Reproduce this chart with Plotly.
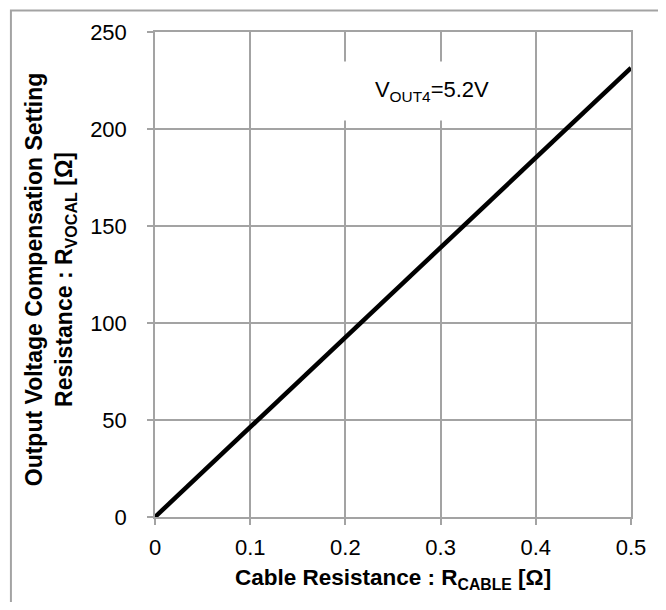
import plotly.graph_objects as go

# Data
r_cable = [0.0, 0.1, 0.2, 0.3, 0.4, 0.5]
r_vocal = [0.0, 46.3, 92.6, 138.9, 185.2, 231.5]

x_ticks = [0, 0.1, 0.2, 0.3, 0.4, 0.5]
x_tick_text = ["0", "0.1", "0.2", "0.3", "0.4", "0.5"]
y_ticks = [0, 50, 100, 150, 200, 250]
y_tick_text = ["0", "50", "100", "150", "200", "250"]

# page offset from default body margin
OFF = 8
W, H = 650, 594
L, T = 155 - OFF, 31 - OFF
PW, PH = 639 - 155, 517 - 31
R = W - L - PW
B = H - T - PH

FONT = "Liberation Sans, Arial, sans-serif"
GRID = "#a3a3a3"

fig = go.Figure()
fig.add_trace(go.Scatter(x=r_cable, y=r_vocal, mode="lines",
                         line=dict(color="black", width=4.5), showlegend=False))

def px_x(p):
    return (p - OFF - L) / PW

def px_y(p):
    return 1 - (p - OFF - T) / PH

fig.update_layout(
    width=W, height=H,
    margin=dict(l=L, r=R, t=T, b=B),
    paper_bgcolor="white", plot_bgcolor="white",
    font=dict(family=FONT, size=22, color="black"),
    xaxis=dict(range=[0, 0.5], tickvals=x_ticks, ticktext=x_tick_text,
               showgrid=True, gridcolor=GRID, gridwidth=1.5,
               showline=True, linecolor=GRID, linewidth=1.5, mirror=True,
               ticks="outside", ticklen=6, tickcolor=GRID, tickwidth=1.5,
               ticklabelstandoff=4, zeroline=False,
               tickfont=dict(family=FONT, size=22, color="black")),
    yaxis=dict(range=[0, 250], tickvals=y_ticks, ticktext=y_tick_text,
               showgrid=True, gridcolor=GRID, gridwidth=1.5,
               showline=True, linecolor=GRID, linewidth=1.5, mirror=True,
               ticks="outside", ticklen=6, tickcolor=GRID, tickwidth=1.5,
               ticklabelstandoff=16, zeroline=False,
               tickfont=dict(family=FONT, size=22, color="black")),
    shapes=[dict(type="rect", xref="paper", yref="paper",
                 x0=px_x(8.5), x1=px_x(700), y0=px_y(700), y1=px_y(9.5),
                 line=dict(color=GRID, width=2), layer="below")],
    annotations=[
        dict(x=0.291, y=219.5, xref="x", yref="y",
             text="V<sub>OUT4</sub>=5.2V", showarrow=False,
             font=dict(family=FONT, size=22, color="black"),
             bgcolor="white", width=170, height=30, borderpad=14,
             xanchor="center", yanchor="middle"),
        dict(x=px_x(397), y=px_y(579), xref="paper", yref="paper",
             text="<b>Cable Resistance : R<sub>CABLE</sub> [Ω]</b>", showarrow=False,
             font=dict(family=FONT, size=22.5, color="black"),
             xanchor="center", yanchor="middle"),
        dict(x=px_x(49), y=px_y(279), xref="paper", yref="paper", textangle=-90,
             text="<b>Output Voltage Compensation Setting<br>Resistance : R<sub>VOCAL</sub> [Ω]</b>",
             showarrow=False, font=dict(family=FONT, size=23, color="black"),
             xanchor="center", yanchor="middle"),
    ],
)

fig.write_html("out.html")
